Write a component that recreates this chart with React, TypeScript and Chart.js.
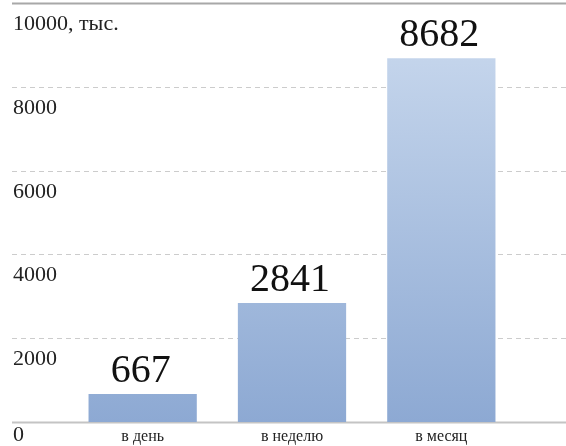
import React, { useEffect, useRef } from "react";
import { Chart, registerables } from "chart.js";

Chart.register(...registerables);

const categories = ["в день", "в неделю", "в месяц"];
const values = [667, 2841, 8682];
const yTicks = [0, 2000, 4000, 6000, 8000, 10000];
const yTickLabels = ["0", "2000", "4000", "6000", "8000", "10000, тыс."];

const FONT = '"Liberation Serif", "Times New Roman", serif';

export default function App() {
  const ref = useRef<HTMLCanvasElement | null>(null);

  useEffect(() => {
    if (!ref.current) return;
    const overlay = {
      id: "overlay",
      beforeDatasetsDraw(chart: any) {
        const { ctx, scales } = chart;
        const y = scales.y;
        const left = 12;
        const right = chart.width;
        ctx.save();
        yTicks.forEach((t, i) => {
          const py = Math.round(y.getPixelForValue(t)) + 0.5;
          ctx.beginPath();
          if (t === 0) {
            ctx.setLineDash([]);
            ctx.strokeStyle = "#c4c4c4";
            ctx.lineWidth = 2;
          } else if (i === yTicks.length - 1) {
            ctx.setLineDash([]);
            ctx.strokeStyle = "#a8a8a8";
            ctx.lineWidth = 2;
          } else {
            ctx.setLineDash([5, 4]);
            ctx.strokeStyle = "#cccccc";
            ctx.lineWidth = 1;
          }
          ctx.moveTo(left, py);
          ctx.lineTo(right, py);
          ctx.stroke();
          ctx.setLineDash([]);
          ctx.fillStyle = "#222222";
          ctx.font = `22px ${FONT}`;
          ctx.textAlign = "left";
          ctx.textBaseline = "alphabetic";
          const base = Math.min(py + 26, chart.height - 5);
          ctx.fillText(yTickLabels[i], left + 1, base);
        });
        ctx.restore();
      },
      afterDatasetsDraw(chart: any) {
        const { ctx, scales } = chart;
        const x = scales.x;
        const y = scales.y;
        ctx.save();
        ctx.fillStyle = "#111111";
        ctx.textAlign = "center";
        ctx.textBaseline = "alphabetic";
        values.forEach((v, i) => {
          const px = x.getPixelForValue(i);
          const py = y.getPixelForValue(v);
          ctx.font = `40px ${FONT}`;
          ctx.fillText(String(v), px - 2, py - 12);
        });
        categories.forEach((c, i) => {
          const px = x.getPixelForValue(i);
          ctx.font = `16px ${FONT}`;
          ctx.fillStyle = "#222222";
          ctx.fillText(c, px, chart.height - 5);
        });
        ctx.restore();
      },
    };

    const chart = new Chart(ref.current, {
      type: "bar",
      data: {
        labels: categories,
        datasets: [
          {
            data: values,
            backgroundColor: (c: any) => {
              const area = c.chart.chartArea;
              if (!area) return "#a0b8dc";
              const g = c.chart.ctx.createLinearGradient(0, area.bottom, 0, area.top);
              g.addColorStop(0, "#8da9d3");
              g.addColorStop(1, "#ccdbef");
              return g;
            },
            borderWidth: 0,
            barPercentage: 0.725,
            categoryPercentage: 1,
          },
        ],
      },
      options: {
        animation: false,
        responsive: false,
        maintainAspectRatio: false,
        layout: { padding: { left: 68, right: 50, top: 3, bottom: 24 } },
        plugins: { legend: { display: false }, tooltip: { enabled: false } },
        scales: {
          x: { display: false },
          y: { display: false, min: 0, max: 10000 },
        },
      },
      plugins: [overlay],
    });
    return () => chart.destroy();
  }, []);

  return (
    <div style={{ position: "absolute", left: 0, top: 0, width: 566, height: 446 }}>
      <canvas ref={ref} width={566} height={446} style={{ width: 566, height: 446 }} />
    </div>
  );
}
